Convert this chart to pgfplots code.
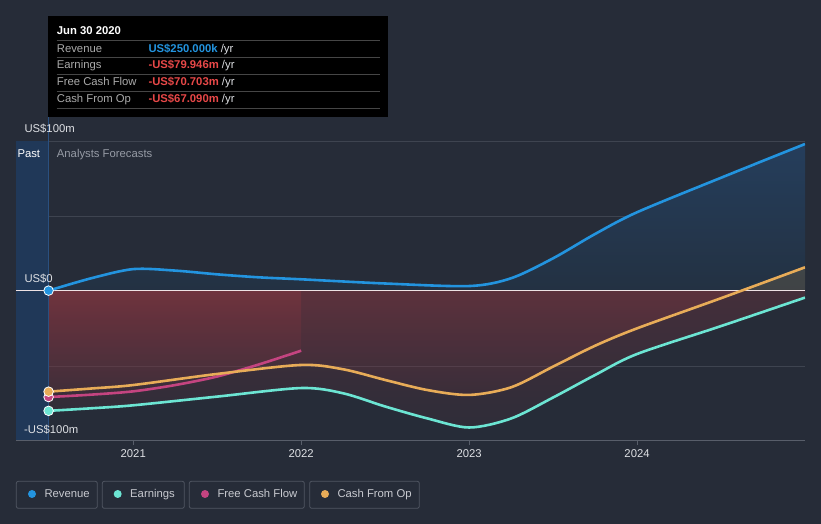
\documentclass[border=0pt]{standalone}
\usepackage{pgfplots}
\pgfplotsset{compat=1.18}
\usepackage{fontspec}
\setmainfont{Liberation Sans}
\definecolor{bg}{RGB}{38,44,56}
\definecolor{gridc}{RGB}{62,68,80}
\definecolor{axc}{RGB}{88,94,106}
\definecolor{zeroc}{RGB}{238,226,228}
\definecolor{pastc}{RGB}{32,56,88}
\definecolor{pastline}{RGB}{42,80,128}
\definecolor{revc}{RGB}{35,148,223}
\definecolor{earnc}{RGB}{108,229,211}
\definecolor{fcfc}{RGB}{196,68,128}
\definecolor{cfoc}{RGB}{232,172,88}
\definecolor{negc}{RGB}{190,60,70}
\definecolor{revtop}{RGB}{37,62,92}
\definecolor{revbot}{RGB}{35,49,66}
\definecolor{labc}{RGB}{222,224,228}
\definecolor{greyc}{RGB}{150,155,165}
\definecolor{ttgrey}{RGB}{170,170,170}
\definecolor{ttline}{RGB}{70,70,70}
\definecolor{redv}{RGB}{232,72,72}
\definecolor{legtext}{RGB}{200,202,208}
\definecolor{legbox}{RGB}{80,86,98}
\begin{document}
\begin{tikzpicture}[x=1pt,y=1pt]
\fill[bg] (0,0) rectangle (821,524);
\begin{axis}[
  at={(16pt,83pt)}, anchor=south west, scale only axis,
  width=789pt, height=300pt,
  xmin=2020.302, xmax=2025, ymin=-100, ymax=100,
  axis line style={draw=none},
  xtick={2021,2022,2023,2024}, xticklabels={2021,2022,2023,2024},
  xtick pos=bottom, tick align=outside, major tick length=4pt,
  xtick style={draw=axc, line width=0.8pt},
  xticklabel style={font=\fontsize{11.3}{13}\selectfont, text=labc, yshift=-1pt},
  ytick={-50,50,100}, yticklabels={,,}, ytick style={draw=none},
  ymajorgrids, grid style={gridc, line width=0.8pt},
]
\fill[pastc] (axis cs:2020.302,-100) rectangle (axis cs:2020.496,100);
% fills
\addplot[draw=none, top color=revtop, bottom color=revbot] coordinates {
(2020.496,0.25) (2020.75,8.5) (2021,14.6) (2021.25,13.6) (2021.5,11.1) (2021.75,9.1) (2022,7.8) (2022.5,5.0) (2023,3.3) (2023.25,8.5) (2023.5,21.8) (2023.75,38) (2024,52.5) (2024.5,75.5) (2025,98)} \closedcycle;
\addplot[draw=none, top color=negc, bottom color=negc!30!bg, fill opacity=0.2] coordinates {
(2020.496,-79.9) (2020.75,-78.2) (2021,-76.2) (2021.5,-70.4) (2022,-64.7) (2022.25,-68.2) (2022.5,-77) (2022.75,-84.9) (2023,-91) (2023.25,-85) (2023.5,-71) (2023.75,-56) (2024,-42) (2024.5,-23.4) (2025,-4.4)} \closedcycle;
\addplot[draw=none, top color=negc, bottom color=negc!30!bg, fill opacity=0.2] coordinates {
(2020.496,-70.7) (2020.75,-69.1) (2021,-66.9) (2021.25,-62.7) (2021.5,-57) (2021.75,-48.9) (2022,-39.8)} \closedcycle;
\addplot[draw=none, top color=negc, bottom color=negc!30!bg, fill opacity=0.2] coordinates {
(2020.496,-67.1) (2020.75,-65) (2021,-62.7) (2021.5,-55.3) (2022,-49.3) (2022.25,-52.2) (2022.5,-59.3) (2022.75,-66) (2023,-69.3) (2023.25,-64.2) (2023.5,-50.4) (2023.75,-36.5) (2024,-24.9) (2024.5,-4.8) (2024.617,0)} \closedcycle;
\addplot[draw=none, fill=cfoc, fill opacity=0.15] coordinates {(2024.617,0) (2025,15.8)} \closedcycle;
% past divider, zero line and bottom axis line
\draw[pastline, line width=0.8pt] (axis cs:2020.496,-100) -- (axis cs:2020.496,100);
\draw[zeroc, line width=1pt] (axis cs:2020.302,0) -- (axis cs:2025,0);
\draw[axc, line width=1pt] (axis cs:2020.302,-100) -- (axis cs:2025,-100);
% lines
\addplot[smooth, tension=0.5, revc, line width=2.6pt] coordinates {
(2020.496,0.25) (2020.75,8.5) (2021,14.6) (2021.25,13.6) (2021.5,11.1) (2021.75,9.1) (2022,7.8) (2022.5,5.0) (2023,3.3) (2023.25,8.5) (2023.5,21.8) (2023.75,38) (2024,52.5) (2024.5,75.5) (2025,98)};
\addplot[smooth, tension=0.5, earnc, line width=2.6pt] coordinates {
(2020.496,-79.9) (2020.75,-78.2) (2021,-76.2) (2021.5,-70.4) (2022,-64.7) (2022.25,-68.2) (2022.5,-77) (2022.75,-84.9) (2023,-91) (2023.25,-85) (2023.5,-71) (2023.75,-56) (2024,-42) (2024.5,-23.4) (2025,-4.4)};
\addplot[smooth, tension=0.5, fcfc, line width=2.6pt] coordinates {
(2020.496,-70.7) (2020.75,-69.1) (2021,-66.9) (2021.25,-62.7) (2021.5,-57) (2021.75,-48.9) (2022,-39.8)};
\addplot[smooth, tension=0.5, cfoc, line width=2.6pt] coordinates {
(2020.496,-67.1) (2020.75,-65) (2021,-62.7) (2021.5,-55.3) (2022,-49.3) (2022.25,-52.2) (2022.5,-59.3) (2022.75,-66) (2023,-69.3) (2023.25,-64.2) (2023.5,-50.4) (2023.75,-36.5) (2024,-24.9) (2024.5,-4.8) (2025,15.8)};
% start dots
\addplot[only marks, mark=*, mark size=4.8pt, mark options={fill=earnc, draw=white, line width=0.8pt}] coordinates {(2020.496,-79.9)};
\addplot[only marks, mark=*, mark size=4.8pt, mark options={fill=fcfc, draw=white, line width=0.8pt}] coordinates {(2020.496,-70.7)};
\addplot[only marks, mark=*, mark size=4.8pt, mark options={fill=cfoc, draw=white, line width=0.8pt}] coordinates {(2020.496,-67.1)};
\addplot[only marks, mark=*, mark size=4.8pt, mark options={fill=revc, draw=white, line width=0.8pt}] coordinates {(2020.496,0.25)};
\end{axis}
% past marker line above the plot area
\draw[pastline, line width=0.8pt] (48.3,407) -- (48.3,383);
\begin{scope}[font=\fontsize{11.3}{13}\selectfont]
% y labels
\node[anchor=base west, inner sep=0, text=labc] at (24.3,391) {US\$100m};
\node[anchor=base west, inner sep=0, text=labc] at (24.3,241.3) {US\$0};
\node[anchor=base west, inner sep=0, text=labc] at (24,90.7) {-US\$100m};
\node[anchor=base west, inner sep=0, text=white] at (17.3,366.7) {Past};
\node[anchor=base west, inner sep=0, text=greyc] at (56.7,366.7) {Analysts Forecasts};
% tooltip
\fill[black] (48.3,407.3) rectangle (387.7,508);
\foreach \yy in {483.3,466.7,449.7,432.7,415.7} \draw[ttline, line width=0.8pt] (56.7,\yy) -- (380,\yy);
\node[anchor=base west, inner sep=0, text=white, font=\fontsize{11.3}{13}\selectfont\bfseries] at (56.7,489.3) {Jun 30 2020};
\node[anchor=base west, inner sep=0, text=ttgrey] at (56.7,471.7) {Revenue};
\node[anchor=base west, inner sep=0, text=ttgrey] at (56.7,455) {Earnings};
\node[anchor=base west, inner sep=0, text=ttgrey] at (56.7,438) {Free Cash Flow};
\node[anchor=base west, inner sep=0, text=ttgrey] at (56.7,421) {Cash From Op};
\node[anchor=base west, inner sep=0] at (148.3,471.7) {\textcolor{revc}{\bfseries US\$250.000k} \textcolor{labc}{/yr}};
\node[anchor=base west, inner sep=0] at (148.3,455) {\textcolor{redv}{\bfseries -US\$79.946m} \textcolor{labc}{/yr}};
\node[anchor=base west, inner sep=0] at (148.3,438) {\textcolor{redv}{\bfseries -US\$70.703m} \textcolor{labc}{/yr}};
\node[anchor=base west, inner sep=0] at (148.3,421) {\textcolor{redv}{\bfseries -US\$67.090m} \textcolor{labc}{/yr}};
% legend
\draw[legbox, line width=0.8pt, rounded corners=2pt] (16.3,15.7) rectangle (97.3,42.7);
\draw[legbox, line width=0.8pt, rounded corners=2pt] (102.3,15.7) rectangle (184.3,42.7);
\draw[legbox, line width=0.8pt, rounded corners=2pt] (189.3,15.7) rectangle (304.3,42.7);
\draw[legbox, line width=0.8pt, rounded corners=2pt] (309.7,15.7) rectangle (419.3,42.7);
\fill[revc] (32,30) circle (4);
\fill[earnc] (117.7,30) circle (4);
\fill[fcfc] (205,30) circle (4);
\fill[cfoc] (325,30) circle (4);
\node[anchor=base west, inner sep=0, text=legtext] at (44.3,26) {Revenue};
\node[anchor=base west, inner sep=0, text=legtext] at (130,26) {Earnings};
\node[anchor=base west, inner sep=0, text=legtext] at (217.3,26) {Free Cash Flow};
\node[anchor=base west, inner sep=0, text=legtext] at (337.3,26) {Cash From Op};
\end{scope}
\end{tikzpicture}
\end{document}
